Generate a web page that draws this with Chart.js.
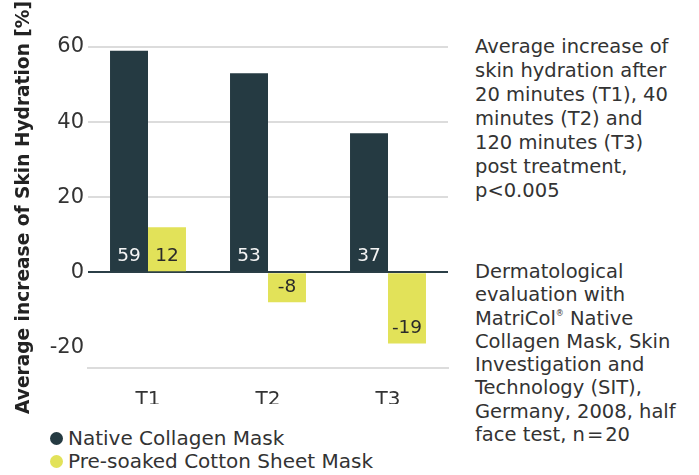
<!DOCTYPE html>
<html>
<head>
<meta charset="utf-8">
<script src="https://cdn.jsdelivr.net/npm/chart.js@4"></script>
<style>
  body { margin: 0; background: #fff; font-family: "DejaVu Sans", sans-serif; color: #333; }
  #wrap { position: relative; width: 699px; height: 475px; }
  #chart-box { position: absolute; left: 0; top: 0; width: 460px; height: 420px; }
  .legend { position: absolute; left: 50px; top: 427px; font-size: 20px; line-height: 23px; }
  .legend div { white-space: nowrap; }
  .legend span { display: inline-block; width: 13px; height: 13px; border-radius: 50%; margin-right: 5px; vertical-align: 0px; }
  .note { position: absolute; left: 475px; font-size: 19.5px; line-height: 24px; white-space: nowrap; }
  .note sup { font-size: 8px; line-height: 0; vertical-align: 0; position: relative; top: -9px; }
</style>
</head>
<body>
<div id="wrap">
  <div id="chart-box"><canvas id="chart"></canvas></div>
  <div class="legend" id="legend"></div>
  <div class="note" style="top:35px">Average increase of<br>skin hydration after<br>20 minutes (T1), 40<br>minutes (T2) and<br>120 minutes (T3)<br>post treatment,<br>p&lt;0.005</div>
  <div class="note" style="top:260px;line-height:23.3px">Dermatological<br>evaluation with<br>MatriCol<sup>®</sup> Native<br>Collagen Mask, Skin<br>Investigation and<br>Technology (SIT),<br>Germany, 2008, half<br>face test, n&#8202;=&#8202;20</div>
</div>
<script>
const categories = ['T1', 'T2', 'T3'];
const seriesNames = ['Native Collagen Mask', 'Pre-soaked Cotton Sheet Mask'];
const nativeValues = [59, 53, 37];
const cottonValues = [12, -8, -19];
const yTicks = [60, 40, 20, 0, -20];
const yTitle = 'Average increase of Skin Hydration [%]';

const DARK = '#253a42', YELLOW = '#e2e259';
const colors = [DARK, YELLOW];
const labelColors = ['#f4f4f4', '#2a2a2a'];
const FONT = 'DejaVu Sans';

document.getElementById('legend').innerHTML = seriesNames.map((n, i) =>
  `<div><span style="background:${colors[i]}"></span>${n}</div>`).join('');

// value labels sit at the lower edge inside each bar
const barLabels = {
  id: 'barLabels',
  afterDatasetsDraw(chart) {
    const ctx = chart.ctx;
    ctx.save();
    ctx.font = `18.5px "${FONT}"`;
    ctx.textAlign = 'center';
    ctx.textBaseline = 'middle';
    chart.data.datasets.forEach((ds, di) => {
      chart.getDatasetMeta(di).data.forEach((el, i) => {
        const bottom = Math.max(el.y, el.base);
        ctx.fillStyle = labelColors[di];
        ctx.fillText(String(ds.data[i]), el.x, bottom - 15);
      });
    });
    ctx.restore();
  }
};

new Chart(document.getElementById('chart'), {
  type: 'bar',
  data: {
    labels: categories,
    datasets: [
      { label: seriesNames[0], data: nativeValues, backgroundColor: DARK },
      { label: seriesNames[1], data: cottonValues, backgroundColor: YELLOW }
    ]
  },
  options: {
    responsive: true,
    maintainAspectRatio: false,
    animation: false,
    categoryPercentage: 0.633,
    barPercentage: 1,
    layout: { padding: { left: 9, right: 12, top: 47, bottom: 16 } },
    plugins: { legend: { display: false }, tooltip: { enabled: false } },
    scales: {
      x: {
        afterFit: s => { s.height = 36; },
        grid: { display: false },
        border: { display: true, color: '#dcdcdc', width: 2 },
        ticks: { color: '#333', padding: 12, font: { family: FONT, size: 20 } }
      },
      y: {
        min: -25.5,
        max: 60,
        afterBuildTicks: s => { s.ticks = yTicks.map(v => ({ value: v })).concat([{ value: -25.5 }]); },
        afterFit: s => { s.width = 79; },
        border: { display: false },
        grid: {
          drawTicks: false,
          lineWidth: 2,
          color: c => c.tick.value === 0 ? '#2b3f47' : (c.tick.value > 0 ? '#dcdcdc' : 'rgba(0,0,0,0)')
        },
        ticks: {
          color: '#333',
          padding: 4,
          font: { family: FONT, size: 21 },
          callback: v => yTicks.includes(v) ? v : ''
        },
        title: {
          display: true,
          text: yTitle,
          color: '#222',
          padding: { top: 4, bottom: 4 },
          font: { family: FONT, size: 18.6, weight: 'bold' }
        }
      }
    }
  },
  plugins: [barLabels]
});
</script>
</body>
</html>
